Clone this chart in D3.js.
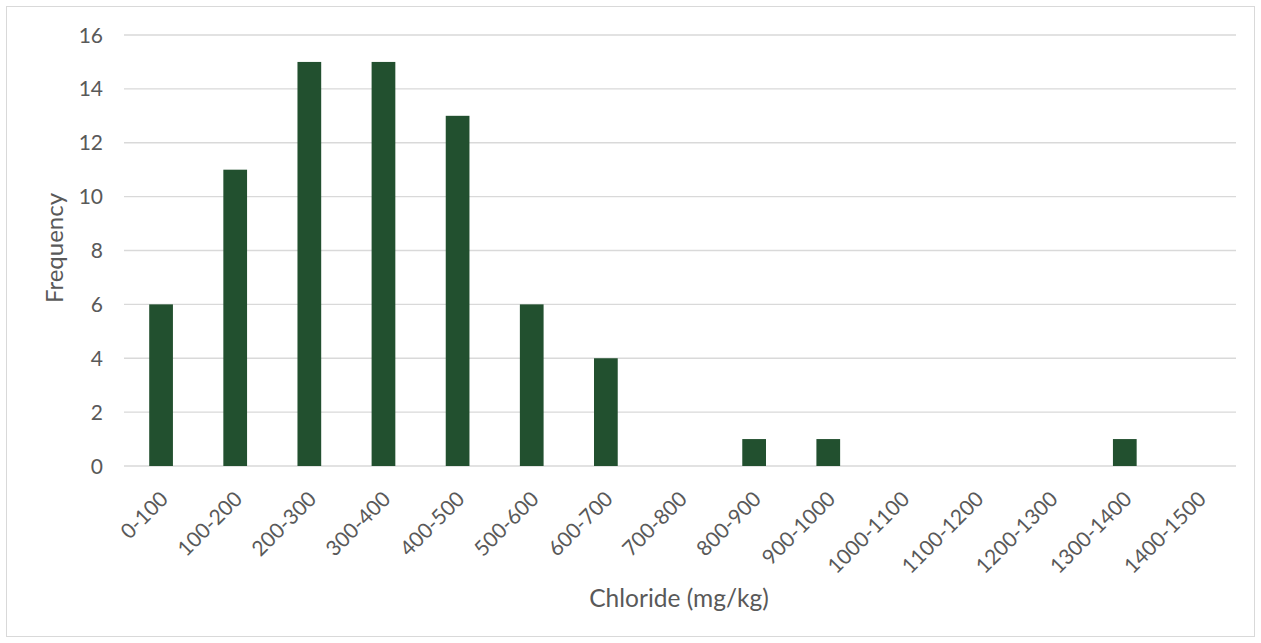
<!DOCTYPE html>
<html><head><meta charset="utf-8">
<script src="https://cdn.jsdelivr.net/npm/d3@7"></script>
<style>body{margin:0;background:#fff}text{font-family:Lato,"Open Sans",sans-serif}</style>
</head><body>
<svg id="c" width="1261" height="643"></svg>
<script>
const categories = ["0-100","100-200","200-300","300-400","400-500","500-600","600-700","700-800","800-900","900-1000","1000-1100","1100-1200","1200-1300","1300-1400","1400-1500"];
const frequency = [6,11,15,15,13,6,4,0,1,1,0,0,0,1,0];
const yTicks = [0,2,4,6,8,10,12,14,16];

const svg = d3.select("#c");
svg.append("rect").attr("x",6.5).attr("y",6.5).attr("width",1248).attr("height",630)
  .attr("fill","#fff").attr("stroke","#d9d9d9");

const m = {l:124, r:1236, t:35, b:466};
const x = d3.scaleBand().domain(categories).range([m.l, m.r]).paddingInner(0.68).paddingOuter(0.34);
const y = d3.scaleLinear().domain([0,16]).range([m.b, m.t]);

svg.append("g").selectAll("line").data(yTicks).join("line")
  .attr("x1",m.l).attr("x2",m.r).attr("y1",d=>y(d)).attr("y2",d=>y(d))
  .attr("stroke","#d9d9d9").attr("stroke-width",1.3);

svg.append("g").selectAll("text").data(yTicks).join("text")
  .attr("x",103).attr("y",d=>y(d)).attr("dy","0.36em").attr("text-anchor","end")
  .attr("fill","#595959").attr("font-size",21).text(d=>d);

svg.append("g").selectAll("rect").data(frequency).join("rect")
  .attr("x",(d,i)=>x(categories[i])).attr("width",x.bandwidth())
  .attr("y",d=>y(d)).attr("height",d=>y(0)-y(d)).attr("fill","#22502f");

svg.append("g").selectAll("text").data(categories).join("text")
  .attr("transform",d=>`translate(${x(d)+x.bandwidth()/2+3},${m.b+29}) rotate(-45)`)
  .attr("text-anchor","end").attr("dy","0.36em")
  .attr("fill","#595959").attr("font-size",21).text(d=>d);

svg.append("text").attr("x",679).attr("y",607).attr("text-anchor","middle")
  .attr("fill","#595959").attr("font-size",24.5).text("Chloride (mg/kg)");
svg.append("text").attr("transform","translate(63,248) rotate(-90)").attr("text-anchor","middle")
  .attr("fill","#595959").attr("font-size",24).text("Frequency");
</script>
</body></html>
